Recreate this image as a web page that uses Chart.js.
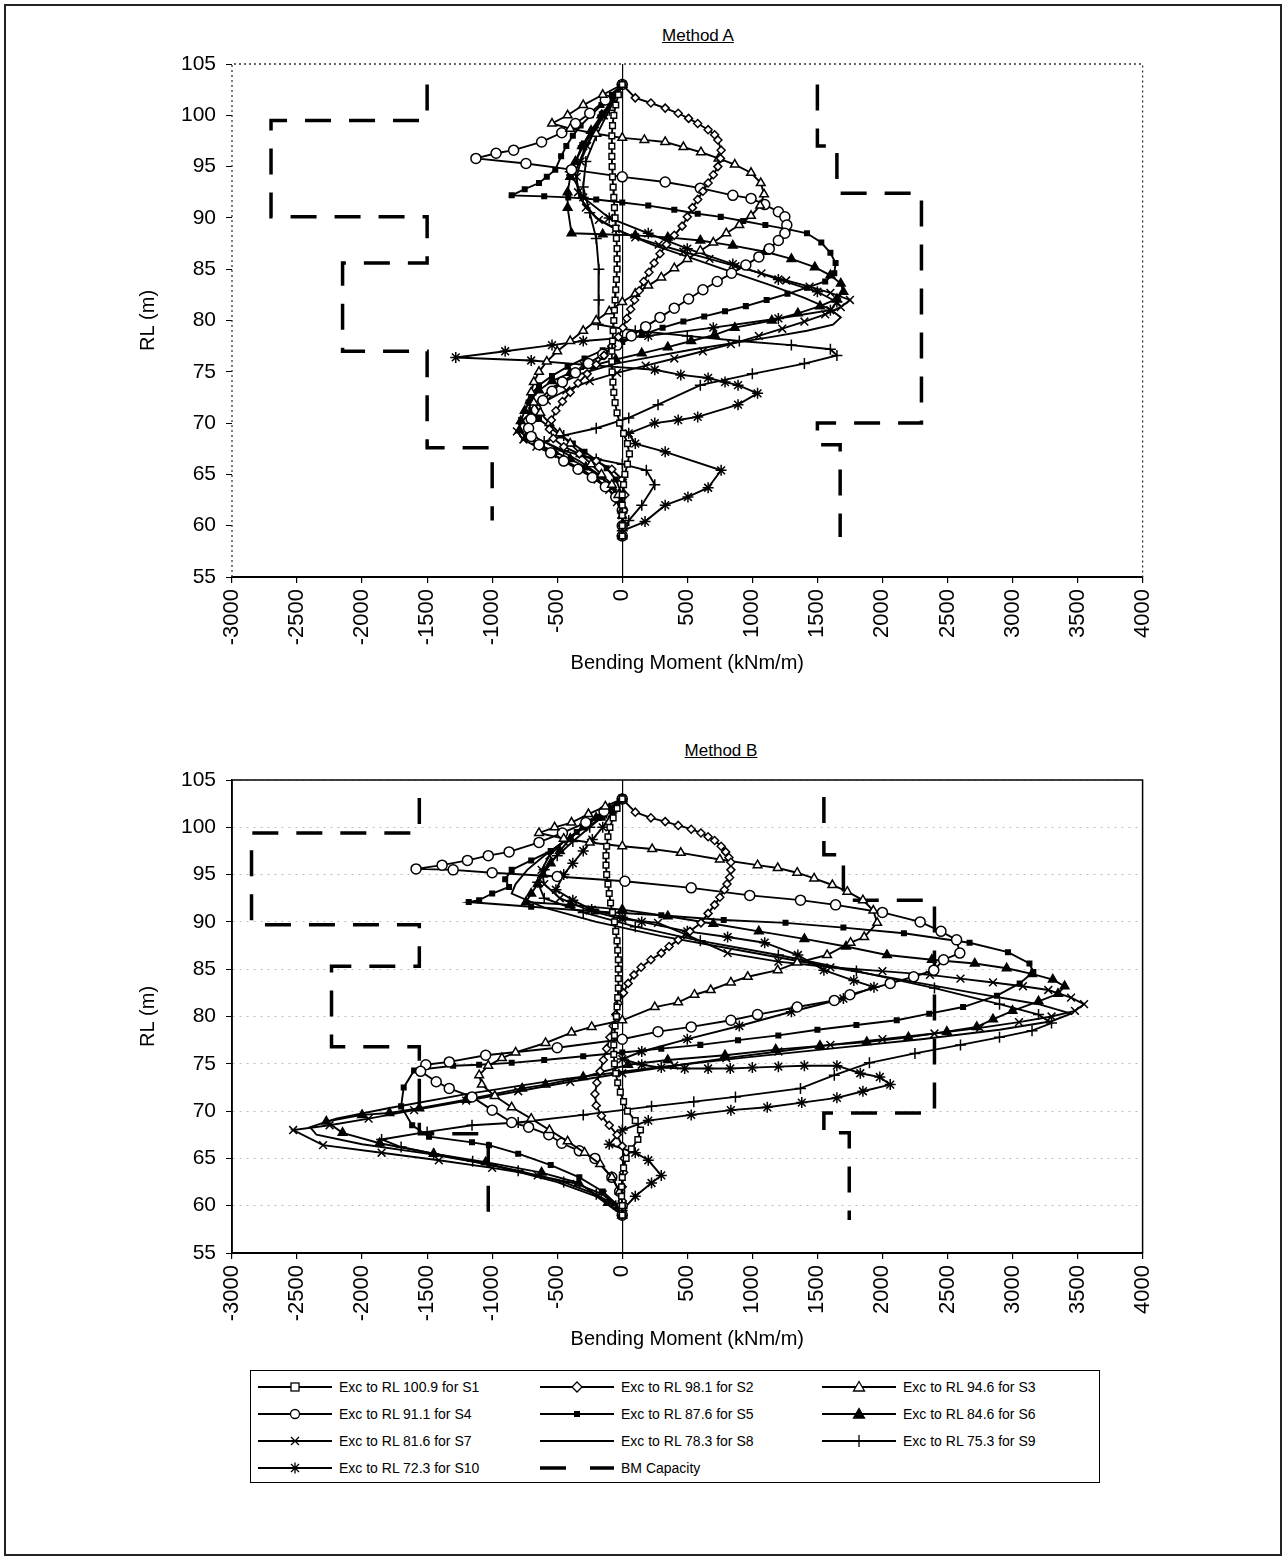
<!DOCTYPE html>
<html>
<head>
<meta charset="utf-8">
<title>Bending moment - Method A / Method B</title>
<script src="https://cdn.jsdelivr.net/npm/chart.js@4.4.1/dist/chart.umd.min.js"></script>
<style>
  body { margin:0; background:#fff; font-family:"Liberation Sans", Arial, sans-serif; color:#000; }
  #page { position:relative; width:1288px; height:1561px; overflow:hidden; }
  #frame { position:absolute; left:4px; top:4px; width:1278px; height:1552px; border:2px solid #222; box-sizing:border-box; }
  .ttl { position:absolute; font-size:17px; text-decoration:underline; transform:translateX(-50%); white-space:nowrap; }
  .box { position:absolute; }
  #legend { position:absolute; left:250px; top:1370px; width:850px; height:113px; border:1.5px solid #000; box-sizing:border-box; font-size:14px; }
  .item { position:absolute; height:20px; display:flex; align-items:center; white-space:nowrap; }
  .item svg { margin-right:4px; }
</style>
</head>
<body>
<div id="page">
  <div id="frame"></div>
  <div class="ttl" style="left:698px; top:26px;">Method A</div>
  <div class="box" style="left:100px; top:40px; width:1075px; height:650px;"><canvas id="chartA"></canvas></div>
  <div class="ttl" style="left:721px; top:741px;">Method B</div>
  <div class="box" style="left:100px; top:756px; width:1075px; height:610px;"><canvas id="chartB"></canvas></div>
  <div id="legend"></div>
</div>
<script>
// axis ranges / ticks
const bmMin = -3000, bmMax = 4000, bmStep = 500;
const rlMin = 55, rlMax = 105, rlStep = 5;

const stageNames = [
  'Exc to RL 100.9 for S1', 'Exc to RL 98.1 for S2', 'Exc to RL 94.6 for S3',
  'Exc to RL 91.1 for S4', 'Exc to RL 87.6 for S5', 'Exc to RL 84.6 for S6',
  'Exc to RL 81.6 for S7', 'Exc to RL 78.3 for S8', 'Exc to RL 75.3 for S9',
  'Exc to RL 72.3 for S10'
];
const capacityName = 'BM Capacity';

// ---- Method A : [bending moment, RL] ----
const A_S1 = [[0,103],[-30,102],[-50,101],[-65,100],[-75,99],[-80,98],[-80,97],[-80,96],[-78,95],[-75,94],[-70,93],[-65,92],[-60,91],[-55,90],[-50,89],[-45,88],[-40,87],[-40,86],[-40,85],[-45,84],[-50,83],[-55,82],[-60,81],[-65,80],[-70,79],[-75,78],[-80,77],[-80,76],[-78,75],[-72,74],[-65,73],[-55,72],[-40,71],[-20,70],[10,69],[40,68],[55,67],[40,66],[20,65],[10,64],[0,63],[0,62],[0,61],[0,60],[0,59]];
const A_S2 = [[0,103],[100,101.7],[220,101.2],[330,100.7],[430,100.2],[510,99.7],[580,99.2],[660,98.6],[710,98.1],[735,97.6],[760,96.6],[755,95.8],[735,95],[700,94.2],[660,93.4],[620,92.6],[580,91.8],[540,91],[500,90.1],[460,89.2],[400,88.3],[340,87.4],[290,86.5],[245,85.6],[205,84.7],[165,83.8],[130,82.9],[95,82],[65,81.1],[35,80.2],[5,79.3],[-30,78.4],[-80,77.5],[-140,76.6],[-200,75.7],[-270,74.8],[-340,73.9],[-400,73],[-460,72.1],[-510,71.2],[-545,70.3],[-560,69.4],[-530,68.5],[-450,67.7],[-330,67],[-200,66.3],[-80,65.5],[0,64.5],[20,63],[10,61.5],[0,60],[0,59]];
const A_S3 = [[0,103],[-150,102],[-300,101],[-420,100],[-540,99.2],[-400,98.7],[-200,98.2],[0,97.8],[170,97.6],[330,97.4],[470,96.9],[605,96.4],[740,95.8],[865,95.2],[990,94.4],[1065,93.4],[1090,92.3],[1060,91.2],[990,90.2],[900,89.3],[800,88.5],[700,87.6],[600,86.8],[500,86],[400,85.1],[300,84.2],[200,83.4],[100,82.6],[0,81.8],[-100,80.9],[-200,80],[-300,79],[-400,78],[-500,77],[-580,76],[-640,75],[-680,74],[-700,73],[-680,72],[-630,71],[-560,70],[-480,69],[-400,68],[-320,67],[-240,66],[-160,65],[-80,64],[-30,63],[0,61.5],[0,59]];
const A_S4 = [[0,103],[-130,101.5],[-250,100.2],[-360,99.2],[-465,98.3],[-620,97.4],[-835,96.6],[-970,96.3],[-1125,95.8],[-740,95.3],[-390,94.7],[0,94],[330,93.5],[600,92.9],[850,92.2],[990,91.9],[1095,91.3],[1200,90.6],[1250,90.1],[1265,89.3],[1250,88.5],[1200,87.8],[1130,87],[1050,86.2],[950,85.4],[840,84.6],[730,83.8],[620,83],[510,82.1],[400,81.2],[290,80.3],[180,79.4],[70,78.5],[-40,77.6],[-150,76.7],[-260,75.8],[-360,74.9],[-460,74],[-540,73.1],[-610,72.2],[-660,71.3],[-700,70.4],[-720,69.5],[-700,68.7],[-640,67.9],[-550,67.1],[-450,66.3],[-340,65.5],[-230,64.7],[-130,63.8],[-50,62.8],[0,61.5],[0,60],[0,59]];
const A_S5 = [[0,103],[-80,102],[-160,101],[-240,100],[-320,99],[-380,98],[-430,97],[-470,96],[-515,94.7],[-580,94],[-640,93.4],[-750,92.8],[-850,92.2],[-600,92.1],[-415,92],[-200,91.8],[0,91.5],[200,91.2],[400,90.8],[580,90.4],[757,90.1],[930,89.7],[1100,89.3],[1270,88.9],[1420,88.5],[1530,87.6],[1600,86.6],[1640,85.6],[1630,84.6],[1560,83.8],[1420,83.2],[1270,82.6],[1110,82],[950,81.4],[790,80.9],[630,80.4],[470,79.9],[310,79.3],[150,78.6],[0,77.9],[-150,77.1],[-290,76.3],[-420,75.5],[-540,74.6],[-640,73.7],[-700,72.8],[-720,72],[-700,71.2],[-640,70.4],[-560,69.6],[-470,68.8],[-380,68],[-290,67.2],[-200,66.4],[-120,65.6],[-50,64.5],[0,63],[0,61],[0,59]];
const A_S6 = [[0,103],[-80,101.5],[-160,100],[-240,98.5],[-310,97],[-360,95.5],[-400,94],[-420,92.5],[-420,91],[-390,88.5],[-150,88.4],[100,88.3],[350,88.1],[600,87.8],[850,87.3],[1100,86.7],[1300,86],[1480,85.2],[1600,84.4],[1680,83.6],[1700,82.8],[1650,82.1],[1520,81.4],[1350,80.7],[1150,80],[865,79.3],[710,78.6],[530,78],[350,77.4],[150,76.8],[-50,76.2],[-230,75.6],[-400,74.9],[-540,74.1],[-640,73.2],[-710,72.2],[-750,71.2],[-780,70.2],[-790,69.3],[-740,68.6],[-640,67.9],[-520,67.2],[-400,66.5],[-280,65.7],[-170,64.8],[-80,63.8],[-20,62.5],[0,61],[0,59]];
const A_S7 = [[0,103],[-70,101.5],[-140,100],[-210,98.5],[-270,97],[-320,95.5],[-350,94],[-340,92.5],[-280,91],[-180,89.8],[-50,88.9],[100,88.1],[280,87.4],[470,86.7],[670,86],[870,85.3],[1070,84.6],[1260,83.9],[1440,83.3],[1600,82.7],[1750,82],[1680,81.3],[1560,80.6],[1400,79.9],[1230,79.2],[1050,78.5],[835,77.7],[620,77],[400,76.3],[180,75.6],[-40,74.9],[-250,74.1],[-430,73.2],[-580,72.2],[-690,71.2],[-770,70.2],[-810,69.2],[-760,68.4],[-660,67.7],[-540,67],[-420,66.2],[-300,65.4],[-190,64.5],[-100,63.5],[-40,62.3],[0,61],[0,59]];
const A_S8 = [[0,103],[-150,100],[-280,97],[-360,94.5],[-330,92],[-200,90],[0,88.6],[250,87.3],[550,86],[850,84.7],[1150,83.4],[1400,82.2],[1600,81.1],[1680,80.3],[1620,79.6],[1420,79],[1150,78.4],[850,77.8],[550,77.2],[250,76.5],[-50,75.8],[-320,74.8],[-520,73.6],[-650,72.2],[-720,70.8],[-730,69.6],[-650,68.5],[-500,67.5],[-330,66.3],[-180,65],[-70,63.5],[0,61.5],[0,59]];
const A_S9 = [[0,103],[-100,100.5],[-200,98],[-280,95.5],[-300,93],[-250,90.5],[-200,88],[-180,85],[-180,82],[-185,79.6],[100,79],[500,78.5],[900,78],[1300,77.6],[1600,77.2],[1650,76.6],[1400,75.8],[1000,74.8],[600,73.7],[275,71.8],[50,70.5],[-200,69.5],[-450,68.8],[-600,68.2],[-450,67.3],[-200,66.5],[0,66],[185,65.4],[250,64],[150,62],[50,60.5],[0,59]];
const A_S10 = [[0,103],[-150,100],[-300,97],[-400,94.5],[-300,92],[-100,90],[200,88.5],[500,87],[850,85.5],[1200,84],[1500,82.8],[1650,81.8],[1600,81],[1200,80.2],[700,79.3],[200,78.5],[-300,78],[-540,77.6],[-900,77],[-1280,76.4],[-700,76.1],[-300,75.7],[250,75.2],[450,74.7],[660,74.4],[790,74],[890,73.7],[1040,72.9],[890,71.8],[580,70.6],[430,70.3],[250,70],[50,69],[100,68],[330,67.2],[760,65.4],[660,63.7],[505,62.8],[330,62],[175,60.4],[0,59.5]];
const A_capLeft  = [[-1500,103],[-1500,99.5],[-2700,99.5],[-2700,90.1],[-1500,90.1],[-1500,85.6],[-2150,85.6],[-2150,77],[-1500,77],[-1500,67.6],[-1000,67.6],[-1000,60.5]];
const A_capRight = [[1500,103],[1500,97],[1650,97],[1650,92.4],[2300,92.4],[2300,70],[1500,70],[1500,67.9],[1675,67.9],[1675,58.9]];

// ---- Method B : [bending moment, RL] ----
const B_S1 = [[0,103],[-40,102],[-70,101],[-95,100],[-110,99],[-120,98],[-125,97],[-125,96],[-120,95],[-110,94],[-100,93],[-90,92],[-75,91],[-60,90],[-50,89],[-40,88],[-35,87],[-30,86],[-30,85],[-30,84],[-30,83],[-35,82],[-40,81],[-45,80],[-55,79],[-60,78],[-65,77],[-65,76],[-60,75],[-50,74],[-35,73],[-15,72],[10,71],[40,70],[100,69],[140,68],[120,67],[70,66],[30,65],[10,64],[0,63],[-5,62],[-5,61],[0,60],[0,59]];
const B_S2 = [[0,103],[100,101.6],[220,101],[330,100.6],[430,100.2],[530,99.8],[605,99.4],[660,99],[710,98.6],[760,98],[795,97.4],[820,96.8],[835,96.3],[835,95.5],[825,94.7],[805,94],[785,93.4],[750,92.6],[710,91.8],[660,90.9],[605,89.9],[520,89],[430,88.1],[360,87.4],[300,86.7],[220,86],[145,85.2],[90,84.4],[45,83.5],[10,82.5],[-30,81.4],[-50,80.2],[-70,79],[-95,77.8],[-120,76.6],[-145,75.4],[-170,74.2],[-195,73],[-210,71.8],[-200,70.6],[-160,69.5],[-100,68.5],[-40,67.5],[0,66.3],[15,65],[10,63.5],[0,62],[0,60.5],[0,59]];
const B_S3 = [[0,103],[-130,102.2],[-260,101.4],[-390,100.5],[-520,100],[-640,99.4],[-450,98.8],[-250,98.4],[0,98],[230,97.7],[450,97.3],[750,96.6],[1040,96],[1195,95.7],[1345,95.2],[1475,94.6],[1615,93.9],[1730,93.2],[1850,92.3],[1930,91.2],[1960,89.9],[1860,88.4],[1755,87.8],[1575,86.5],[1345,85.7],[1195,84.9],[965,84.2],[835,83.6],[680,82.8],[555,82.3],[430,81.5],[250,81],[0,79.6],[-235,78.9],[-390,78.3],[-590,77.2],[-820,76.2],[-925,75.6],[-1030,74.8],[-1100,73.8],[-1080,72.8],[-980,71.6],[-850,70.4],[-700,69.2],[-560,68],[-420,66.8],[-290,65.6],[-170,64.4],[-80,63],[-20,61.5],[0,60],[0,59]];
const B_S4 = [[0,103],[-140,101.7],[-280,100.5],[-460,99.4],[-640,98.4],[-870,97.4],[-1030,97],[-1190,96.5],[-1385,96],[-1585,95.6],[-1300,95.5],[-1000,95.2],[-500,94.8],[20,94.3],[530,93.6],[980,92.8],[1370,92.3],[1640,91.8],[2000,91],[2290,90],[2450,89],[2570,88.1],[2595,86.7],[2470,86],[2395,84.9],[2240,84.2],[2060,83.5],[1750,82.3],[1630,81.7],[1345,81],[1040,80.2],[835,79.6],[530,78.9],[275,78.4],[0,77.6],[-500,76.7],[-1050,75.9],[-1330,75.2],[-1510,74.9],[-1550,74.2],[-1430,73.1],[-1330,72.4],[-1155,71.5],[-1000,70.1],[-850,68.8],[-720,68.3],[-565,67.5],[-465,66.6],[-330,65.8],[-210,65],[-80,63],[-20,61.5],[0,60],[0,59]];
const B_S5 = [[0,103],[-150,101],[-350,99.5],[-550,97.5],[-700,96.5],[-850,95.5],[-900,94.5],[-870,93.7],[-1000,93],[-1100,92.3],[-1180,92.1],[-700,91.6],[-200,91.1],[300,90.7],[780,90.2],[1255,89.9],[1700,89.4],[2165,88.8],[2670,87.8],[2965,86.8],[3130,85.6],[3160,84.7],[3055,83.5],[2880,82.2],[2620,81],[2360,80.3],[2110,79.6],[1800,79.1],[1500,78.6],[1200,78],[890,77.5],[600,77],[300,76.6],[0,76.2],[-300,75.8],[-600,75.4],[-850,75.1],[-1100,74.9],[-1300,74.8],[-1600,74.3],[-1680,72.5],[-1700,70.5],[-1615,68.5],[-1485,67.3],[-1155,66.7],[-1025,66.4],[-800,65.5],[-550,64.3],[-330,63],[-150,61.5],[-30,60],[0,59]];
const B_S6 = [[0,103],[-100,102],[-200,101],[-300,100],[-400,98.8],[-480,97.5],[-550,96.2],[-610,95],[-650,94],[-700,93],[-740,92.1],[-400,91.8],[0,91.3],[350,90.6],[700,89.8],[1050,89],[1400,88.2],[1720,87.4],[2035,86.5],[2380,86],[2710,85.6],[2955,85.1],[3150,84.5],[3310,83.9],[3400,83.2],[3350,82.4],[3200,81.6],[3000,80.6],[2850,79.7],[2725,78.9],[2495,78.4],[2200,77.8],[1880,77.3],[1520,76.9],[1180,76.5],[790,75.9],[350,75.4],[45,74.9],[-300,73.6],[-590,72.8],[-770,72.4],[-1200,71.2],[-1560,70.3],[-1790,69.8],[-2000,69.6],[-2275,68.9],[-2150,67.7],[-1865,66.6],[-1450,65.5],[-1050,64.6],[-620,63.5],[-335,62.4],[-110,60.3],[0,59]];
const B_S7 = [[0,103],[-150,101.5],[-300,100],[-450,98.5],[-560,97],[-620,95.5],[-600,94],[-480,92.5],[-250,91.2],[0,90.3],[275,89.9],[500,88.6],[810,86.7],[1200,85.8],[1600,85.2],[2000,84.8],[2365,84.4],[2600,84],[2850,83.6],[3080,83.2],[3275,82.8],[3450,82],[3550,81.3],[3480,80.6],[3300,80],[3050,79.4],[2750,78.8],[2400,78.2],[2000,77.6],[1600,77],[1200,76.3],[800,75.6],[400,74.8],[0,74],[-400,73.1],[-800,72.1],[-1200,71.1],[-1600,70.1],[-1950,69.2],[-2250,68.5],[-2530,68],[-2300,66.4],[-1850,65.6],[-1410,64.8],[-1000,64],[-650,63.2],[-350,62.3],[-150,61.2],[-40,60],[0,59]];
const B_S8 = [[0,103],[-150,101.5],[-300,100],[-450,98.5],[-600,97],[-730,95.5],[-820,94],[-850,93],[-600,91.5],[-200,90],[300,88.5],[900,87],[1500,85.5],[2100,84],[2700,82.5],[3200,81.3],[3450,80.3],[3300,79.5],[2900,78.6],[2300,77.6],[1600,76.6],[900,75.6],[200,74.5],[-500,73.3],[-1200,71.8],[-1800,70.3],[-2200,69.2],[-2400,68.3],[-2350,67.5],[-2000,66.5],[-1500,65.5],[-1000,64.3],[-500,62.5],[-200,61],[0,59]];
const B_S9 = [[0,103],[-120,101.5],[-250,100],[-380,98.5],[-500,97],[-600,95.5],[-650,94.2],[-600,92.5],[-300,91],[100,89.5],[600,88],[1200,86.5],[1800,84.8],[2400,83],[2900,81.3],[3200,80.2],[3300,79.3],[3150,78.5],[2900,77.8],[2600,77],[2250,76.1],[1900,75.1],[1630,73.8],[1370,72.4],[870,71.5],[550,71],[225,70.5],[-300,69.6],[-800,68.8],[-1155,68.5],[-1500,67.8],[-1850,67],[-1700,66.2],[-1450,65.5],[-1150,64.7],[-800,63.7],[-450,62.5],[-200,61.2],[-50,60],[0,59]];
const B_S10 = [[0,103],[-80,101.5],[-150,100],[-230,98.7],[-300,97.5],[-380,96.2],[-450,95],[-510,93.4],[-380,92.3],[-235,91.3],[0,90.5],[150,90],[500,89],[810,88.4],[1095,87.8],[1350,86.5],[1550,84.9],[1780,83.8],[1935,83.1],[1700,81.9],[1300,80.5],[900,79],[500,77.6],[150,76.3],[0,75.5],[150,74.9],[300,74.6],[480,74.5],[660,74.5],[830,74.5],[1000,74.6],[1200,74.7],[1400,74.8],[1650,74.8],[1830,74],[1980,73.6],[2060,72.8],[1850,72.1],[1650,71.4],[1380,70.9],[1115,70.4],[835,70.1],[530,69.6],[200,69],[0,68],[-100,66.5],[100,65.6],[200,64.8],[300,63.2],[225,62.4],[100,61],[0,59.5]];
const B_capLeft  = [[-1560,103.1],[-1560,99.4],[-2850,99.4],[-2850,89.7],[-1560,89.7],[-1560,85.3],[-2235,85.3],[-2235,76.8],[-1560,76.8],[-1560,67.6],[-1030,67.6],[-1030,58.5]];
const B_capRight = [[1550,103.2],[1550,97.1],[1700,97.1],[1700,92.3],[2400,92.3],[2400,69.8],[1550,69.8],[1550,67.7],[1745,67.7],[1745,58.5]];

// marker look for each stage (legend uses the same list)
const markers = [
  {style:'rect', r:4, fill:'#fff'},
  {style:'rectRot', r:4, fill:'#fff'},
  {style:'triangle', r:5, fill:'#fff'},
  {style:'circle', r:5, fill:'#fff'},
  {style:'rect', r:3.2, fill:'#000'},
  {style:'triangle', r:5, fill:'#000'},
  {style:'crossRot', r:5.5, fill:'#000'},
  {style:false, r:0, fill:'#000'},
  {style:'cross', r:5.5, fill:'#000'},
  {style:'star', r:5.5, fill:'#000'}
];

const FONT = '"Liberation Sans", Arial, sans-serif';

function pts(pairs) { return pairs.map(p => ({x: p[0], y: p[1]})); }

function buildDatasets(stages, capL, capR) {
  const ds = stages.map((s, i) => ({
    label: stageNames[i],
    data: pts(s),
    showLine: true,
    borderColor: '#000',
    borderWidth: 1.9,
    pointStyle: markers[i].style,
    pointRadius: markers[i].r,
    pointBorderWidth: 1.5,
    pointBorderColor: '#000',
    pointBackgroundColor: markers[i].fill,
    tension: 0
  }));
  ds.push({
    label: capacityName,
    data: pts(capL).concat([{x: 0, y: null}], pts(capR)),
    showLine: true,
    spanGaps: false,
    borderColor: '#000',
    borderWidth: 3.5,
    borderDash: [26, 18],
    pointRadius: 0,
    order: 5
  });
  return ds;
}

// draws the remaining sides of the plot frame
const plotFrame = {
  id: 'plotFrame',
  afterDraw(chart, args, o) {
    const {ctx, chartArea: a} = chart;
    ctx.save();
    ctx.strokeStyle = o.color;
    ctx.lineWidth = o.width;
    ctx.setLineDash(o.dash);
    ctx.beginPath();
    ctx.moveTo(a.left, a.bottom);
    ctx.lineTo(a.left, a.top);
    ctx.lineTo(a.right, a.top);
    ctx.lineTo(a.right, a.bottom);
    ctx.stroke();
    ctx.restore();
  }
};

function makeChart(id, datasets, frame, rlGrid) {
  return new Chart(document.getElementById(id), {
    type: 'scatter',
    data: { datasets: datasets },
    options: {
      responsive: true,
      maintainAspectRatio: false,
      animation: false,
      layout: { padding: { top: 24, right: 28, left: 0, bottom: 0 } },
      plugins: {
        legend: { display: false },
        tooltip: { enabled: false },
        plotFrame: frame
      },
      scales: {
        x: {
          type: 'linear', min: bmMin, max: bmMax,
          ticks: { stepSize: bmStep, minRotation: 90, maxRotation: 90, padding: 6, color: '#000',
                   font: { family: FONT, size: 22 }, callback: v => String(v) },
          grid: { color: c => (c.tick && c.tick.value === 0) ? '#000' : 'rgba(0,0,0,0)',
                  lineWidth: 1.2, tickColor: '#000', tickLength: 6 },
          border: { display: true, color: '#000', width: 2 },
          title: { display: true, text: 'Bending Moment (kNm/m)', color: '#000',
                   font: { family: FONT, size: 20 }, padding: { top: 0, bottom: 15 } },
          afterFit: s => { s.height = 113; }
        },
        y: {
          type: 'linear', min: rlMin, max: rlMax,
          ticks: { stepSize: rlStep, padding: 10, color: '#000', font: { family: FONT, size: 21 } },
          grid: { color: rlGrid ? '#bdbdbd' : 'rgba(0,0,0,0)', lineWidth: 1, tickColor: '#000', tickLength: 6 },
          border: { display: !frame.dash.length, color: '#000', width: 1.5, dash: rlGrid ? [2, 5] : [] },
          title: { display: true, text: 'RL (m)', color: '#000',
                   font: { family: FONT, size: 20 }, padding: { top: 36, bottom: 0 } },
          afterFit: s => { s.width = 132; }
        }
      }
    },
    plugins: [plotFrame]
  });
}

makeChart('chartA',
  buildDatasets([A_S1, A_S2, A_S3, A_S4, A_S5, A_S6, A_S7, A_S8, A_S9, A_S10], A_capLeft, A_capRight),
  { color: '#333', width: 1.3, dash: [2, 3] }, false);

makeChart('chartB',
  buildDatasets([B_S1, B_S2, B_S3, B_S4, B_S5, B_S6, B_S7, B_S8, B_S9, B_S10], B_capLeft, B_capRight),
  { color: '#000', width: 1.5, dash: [] }, true);

// ---- legend (3 columns, boxed) ----
function markerSvg(m) {
  const st = 'stroke="#000" stroke-width="1.3"';
  switch (m.style) {
    case 'rect': return m.fill === '#fff'
      ? `<rect x="34" y="6" width="8" height="8" fill="#fff" ${st}/>`
      : `<rect x="35" y="7" width="6" height="6" fill="#000"/>`;
    case 'rectRot': return `<polygon points="38,5 43,10 38,15 33,10" fill="#fff" ${st}/>`;
    case 'triangle': return `<polygon points="38,4.5 43.5,14 32.5,14" fill="${m.fill}" ${st}/>`;
    case 'circle': return `<circle cx="38" cy="10" r="4.5" fill="#fff" ${st}/>`;
    case 'crossRot': return `<path d="M34,6 L42,14 M42,6 L34,14" ${st}/>`;
    case 'cross': return `<path d="M38,4 L38,16" ${st}/>`;
    case 'star': return `<path d="M34,6 L42,14 M42,6 L34,14 M38,4.5 L38,15.5" ${st}/>`;
    default: return '';
  }
}
const legend = document.getElementById('legend');
const colX = [6, 288, 570];
const rowY = [6, 33, 60, 87];
const legendItems = stageNames.map((n, i) => ({ text: n, svg:
  `<line x1="1" y1="10" x2="75" y2="10" stroke="#000" stroke-width="2"/>` + markerSvg(markers[i]) }));
legendItems.push({ text: capacityName, svg:
  `<line x1="1" y1="10" x2="75" y2="10" stroke="#000" stroke-width="3.5" stroke-dasharray="26 24"/>` });
legendItems.forEach((it, k) => {
  const d = document.createElement('div');
  d.className = 'item';
  d.style.left = colX[k % 3] + 'px';
  d.style.top = rowY[Math.floor(k / 3)] + 'px';
  d.innerHTML = `<svg width="78" height="20">${it.svg}</svg><span>${it.text}</span>`;
  legend.appendChild(d);
});
</script>
</body>
</html>
